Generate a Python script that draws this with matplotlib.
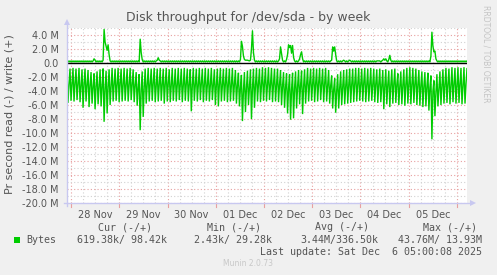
import numpy as np
import matplotlib
matplotlib.use('Agg')
import matplotlib.pyplot as plt
from matplotlib.patches import Rectangle, Polygon
from matplotlib.lines import Line2D

# ---------------- data (values in M bytes/s) ----------------
# read (negative) series: per ~1.5h cycle, the peak (near zero), trough and middle sample
read_peak = [
    -0.9, -0.8, -0.7, -0.8, -0.7, -0.9, -0.8, -1.0, -1.3, -1.5,
    -1.2, -0.9, -0.8, -1.1, -0.9, -0.7, -0.8, -0.7, -0.8, -0.7,
    -0.8, -0.7, -0.9, -1.3, -1.6, -1.2, -0.8, -0.7, -0.8, -0.7,
    -0.8, -0.7, -0.8, -0.7, -0.9, -0.7, -0.8, -0.7, -0.8, -0.7,
    -0.8, -0.9, -0.7, -0.8, -0.7, -0.8, -0.7, -0.8, -0.7, -0.9,
    -0.8, -0.7, -0.8, -0.7, -0.8, -0.7, -1.0, -1.4, -1.7, -1.3,
    -1.1, -0.9, -0.8, -0.7, -0.8, -0.6, -0.7, -0.6, -0.7, -0.8,
    -0.8, -1.0, -1.3, -1.5, -1.6, -1.4, -1.2, -1.0, -1.1, -0.9,
    -0.7, -0.8, -0.7, -0.8, -0.7, -0.8, -0.7, -1.0, -1.8, -2.2,
    -1.6, -1.2, -1.0, -0.9, -0.8, -0.8, -0.7, -0.7, -0.8, -0.7,
    -0.8, -0.7, -0.8, -0.9, -0.8, -1.0, -0.9, -1.1, -0.9, -0.8,
    -1.5, -1.2, -0.9, -0.7, -0.6, -0.7, -0.8, -1.0, -1.2, -1.3,
    -1.4, -1.8, -2.5, -1.6, -1.2, -0.9, -0.7, -0.8, -0.6, -0.7,
    -0.6, -0.7, -0.6, -0.8,
]
read_trough = [
    -5.7, -5.4, -5.5, -5.3, -5.6, -6.4, -5.5, -6.3, -5.8, -6.6,
    -5.9, -6.2, -8.4, -7.2, -6.0, -5.5, -5.4, -5.6, -5.5, -5.4,
    -5.5, -5.3, -5.6, -6.1, -9.6, -7.7, -5.8, -5.5, -5.4, -5.6,
    -5.5, -5.4, -5.8, -5.5, -5.6, -5.4, -5.5, -5.3, -5.6, -5.4,
    -5.5, -6.9, -5.4, -5.5, -5.3, -5.6, -5.4, -5.5, -5.3, -6.0,
    -6.2, -5.5, -5.4, -5.6, -5.5, -5.4, -5.8, -6.2, -8.3, -7.0,
    -6.0, -8.0, -6.4, -5.5, -5.6, -5.4, -5.5, -5.3, -5.6, -5.5,
    -5.6, -6.0, -6.4, -7.2, -8.1, -7.9, -6.5, -5.9, -7.3, -5.8,
    -5.5, -5.4, -5.6, -5.5, -5.3, -5.6, -5.5, -5.8, -6.5, -7.1,
    -6.5, -6.0, -5.9, -5.8, -5.7, -5.6, -5.5, -5.4, -5.5, -5.6,
    -5.5, -5.4, -5.6, -5.7, -5.6, -6.6, -5.9, -6.3, -5.8, -5.7,
    -6.0, -5.9, -6.1, -5.8, -5.9, -5.7, -6.0, -6.1, -6.3, -6.2,
    -6.8, -10.9, -7.6, -6.2, -6.0, -5.8, -5.7, -5.9, -5.6, -5.8,
    -5.7, -5.9, -5.8, -5.7,
]
read_mid = [
    -3.0, -3.1, -2.9, -3.0, -3.2, -3.0, -3.1, -3.2, -3.4, -3.3,
    -3.5, -3.3, -3.6, -3.4, -3.2, -3.0, -3.1, -2.9, -3.0, -3.1,
    -3.0, -3.1, -3.2, -3.5, -3.8, -3.5, -3.1, -3.0, -2.9, -3.1,
    -3.0, -3.1, -3.0, -2.9, -3.1, -3.0, -3.2, -3.0, -3.1, -2.9,
    -3.0, -3.2, -3.0, -3.1, -2.9, -3.0, -3.1, -3.0, -3.2, -3.1,
    -3.0, -3.1, -2.9, -3.0, -3.1, -3.0, -3.2, -3.5, -3.9, -3.6,
    -3.4, -3.6, -3.2, -3.0, -3.1, -2.9, -3.0, -3.1, -3.0, -3.2,
    -3.1, -3.3, -3.5, -3.7, -3.8, -3.6, -3.4, -3.2, -3.4, -3.1,
    -3.0, -3.1, -3.0, -2.9, -3.1, -3.0, -3.2, -3.3, -3.8, -4.0,
    -3.6, -3.4, -3.3, -3.2, -3.1, -3.0, -3.1, -3.0, -2.9, -3.1,
    -3.0, -3.1, -3.0, -3.1, -3.2, -3.3, -3.1, -3.2, -3.0, -3.1,
    -3.3, -3.2, -3.1, -3.0, -3.1, -3.0, -3.1, -3.2, -3.3, -3.4,
    -3.5, -4.0, -4.2, -3.6, -3.3, -3.1, -3.0, -3.1, -3.0, -3.1,
    -3.0, -3.1, -3.0, -3.0,
]
# write (positive) series, one value per 30 min sample
write_vals = [
    0.3, 0.15, 0.3, 0.15, 0.3, 0.15, 0.3, 0.15, 0.3, 0.15, 0.3, 0.15, 0.3, 0.15, 0.3, 0.15, 0.3, 0.15, 0.3, 0.15,
    0.3, 0.15, 0.3, 0.15, 0.3, 0.15, 0.3, 0.6, 0.4, 0.15, 0.3, 0.15, 0.3, 0.15, 0.3, 0.15, 0.4, 4.8, 3.0, 2.4,
    1.8, 2.6, 1.2, 0.3, 0.15, 0.3, 0.15, 0.3, 0.15, 0.3, 0.15, 0.3, 0.15, 0.3, 0.15, 0.3, 0.15, 0.3, 0.15, 0.3,
    0.15, 0.3, 0.15, 0.3, 0.15, 0.3, 0.15, 0.3, 0.15, 0.3, 0.15, 0.3, 0.15, 3.4, 1.5, 0.5, 0.15, 0.3, 0.15, 0.3,
    0.15, 0.3, 0.15, 0.3, 0.15, 0.3, 0.15, 0.3, 0.15, 0.3, 0.4, 0.75, 0.4, 0.3, 0.15, 0.3, 0.15, 0.3, 0.15, 0.3,
    0.15, 0.3, 0.15, 0.3, 0.15, 0.3, 0.15, 0.3, 0.15, 0.3, 0.15, 0.3, 0.15, 0.3, 0.15, 0.3, 0.15, 0.3, 0.15, 0.3,
    0.15, 0.3, 0.15, 0.3, 0.15, 0.3, 0.15, 0.3, 0.15, 0.3, 0.15, 0.3, 0.15, 0.3, 0.15, 0.3, 0.15, 0.3, 0.15, 0.3,
    0.15, 0.3, 0.15, 0.3, 0.15, 0.3, 0.15, 0.3, 0.15, 0.3, 0.15, 0.3, 0.15, 0.3, 0.15, 0.3, 0.15, 0.3, 0.15, 0.3,
    0.15, 0.3, 0.15, 0.3, 0.15, 0.3, 0.15, 0.3, 0.15, 0.3, 0.15, 0.3, 0.15, 0.5, 3.1, 2.4, 1.0, 0.5, 0.4, 0.4,
    0.4, 0.35, 0.3, 0.4, 2.0, 4.6, 1.5, 0.4, 0.15, 0.3, 0.15, 0.3, 0.15, 0.3, 0.15, 0.3, 0.15, 0.3, 0.15, 0.3,
    0.15, 0.3, 0.15, 0.3, 0.15, 0.3, 0.15, 0.3, 0.15, 0.3, 0.15, 0.3, 0.6, 2.3, 1.4, 0.4, 0.15, 0.3, 0.15, 0.5,
    1.2, 2.6, 2.2, 2.5, 1.4, 2.5, 0.8, 0.3, 0.15, 0.3, 0.15, 0.3, 0.6, 1.2, 1.6, 0.6, 0.15, 0.3, 0.15, 0.3,
    0.15, 0.3, 0.15, 0.3, 0.15, 0.3, 0.15, 0.3, 0.15, 0.3, 0.15, 0.3, 0.15, 0.3, 0.15, 0.3, 0.15, 0.3, 0.15, 0.3,
    0.15, 0.3, 0.15, 0.3, 0.4, 2.3, 1.7, 2.3, 1.2, 0.3, 0.15, 0.3, 0.15, 0.3, 0.15, 0.3, 0.4, 0.3, 0.15, 0.3,
    0.15, 0.3, 0.4, 0.3, 0.15, 0.3, 0.15, 0.3, 0.15, 0.3, 0.15, 0.3, 0.15, 0.3, 0.15, 0.3, 0.15, 0.3, 0.15, 0.3,
    0.15, 0.3, 0.15, 0.3, 0.15, 0.3, 0.15, 0.3, 0.15, 0.3, 0.3, 0.3, 0.3, 0.15, 0.3, 0.4, 0.6, 0.4, 0.6, 0.3,
    0.15, 0.5, 1.1, 0.4, 0.15, 0.3, 0.15, 0.3, 0.15, 0.3, 0.15, 0.3, 0.15, 0.3, 0.15, 0.3, 0.15, 0.3, 0.15, 0.3,
    0.15, 0.3, 0.15, 0.3, 0.15, 0.3, 0.15, 0.3, 0.15, 0.3, 0.15, 0.3, 0.15, 0.3, 0.15, 0.3, 0.15, 0.3, 0.15, 0.3,
    0.15, 0.3, 0.15, 1.0, 4.4, 2.4, 1.6, 1.7, 0.6, 0.3, 0.15, 0.3, 0.15, 0.3, 0.15, 0.3, 0.15, 0.3, 0.15, 0.3,
    0.15, 0.3, 0.15, 0.3, 0.15, 0.3, 0.15, 0.3, 0.15, 0.3, 0.15, 0.3, 0.15, 0.3, 0.15, 0.3, 0.15, 0.3, 0.15, 0.3,
]
day_labels = ['28 Nov', '29 Nov', '30 Nov', '01 Dec', '02 Dec', '03 Dec', '04 Dec', '05 Dec']
ytick_vals = [4, 2, 0, -2, -4, -6, -8, -10, -12, -14, -16, -18, -20]
ytick_labels = ['4.0 M', '2.0 M', '0.0', '-2.0 M', '-4.0 M', '-6.0 M', '-8.0 M', '-10.0 M',
                '-12.0 M', '-14.0 M', '-16.0 M', '-18.0 M', '-20.0 M']
legend_name = 'Bytes'
stat_headers = ['Cur (-/+)', 'Min (-/+)', 'Avg (-/+)', 'Max (-/+)']
stat_values = ['619.38k/ 98.42k', '2.43k/ 29.28k', '3.44M/336.50k', '43.76M/ 13.93M']
last_update = 'Last update: Sat Dec  6 05:00:08 2025'

# ---------------- figure ----------------
W, H = 497, 275
fig = plt.figure(figsize=(W / 100, H / 100), dpi=100, facecolor='#F0F0F0')
def fx(x): return x / W
def fy(y): return 1 - y / H

L, R, T, B = 67, 467, 28, 203
ax = fig.add_axes([fx(L), fy(B), (R - L) / W, (B - T) / H])
ax.set_facecolor('white')
XMIN, XMAX = -2.0, 197.0
YMIN, YMAX = -20.0, 5.0
ax.set_xlim(XMIN, XMAX)
ax.set_ylim(YMIN, YMAX)

n = len(write_vals)
t = np.linspace(XMIN, XMAX, n)
read_series = np.column_stack([read_peak, read_trough, read_mid]).ravel()[:n]

GREEN = '#00CC00'
red_grid = '#E8A0A0'
gray_grid = '#D2D2D2'
dots = (0, (1, 2))
# grid
for h in np.arange(0, XMAX, 6):
    major = (h % 24 == 0)
    ax.axvline(h, color=red_grid if major else gray_grid, lw=0.8, ls=dots, zorder=1)
for v in np.arange(YMIN, YMAX + 0.5, 1):
    major = (v % 2 == 0)
    ax.axhline(v, color=red_grid if major else gray_grid, lw=0.8, ls=dots, zorder=1)

ax.plot(t, read_series, color=GREEN, lw=1.0, zorder=3, solid_joinstyle='miter')
ax.plot(t, write_vals, color=GREEN, lw=1.0, zorder=3)
ax.axhline(0, color='black', lw=1.0, zorder=4)

for s in ax.spines.values():
    s.set_visible(False)
ax.set_yticks(ytick_vals)
ax.set_yticklabels(ytick_labels, fontsize=7, color='#555555')
ax.set_xticks([12 + 24 * i for i in range(len(day_labels))])
ax.set_xticklabels(day_labels, fontsize=7, color='#555555')
ax.tick_params(axis='both', length=0, pad=6)
ax.tick_params(axis='x', pad=5)

# axis lines with arrows (munin style)
axis_col = '#C8C8F0'
fig.add_artist(Line2D([fx(L), fx(L)], [fy(B + 3), fy(T - 4)], color=axis_col, lw=1.0))
fig.add_artist(Line2D([fx(L - 3), fx(R + 4)], [fy(B), fy(B)], color=axis_col, lw=1.0))
fig.add_artist(Polygon([[fx(L - 3), fy(T - 3)], [fx(L + 3), fy(T - 3)], [fx(L), fy(T - 9)]],
                       closed=True, color=axis_col, lw=0))
fig.add_artist(Polygon([[fx(R + 3), fy(B - 3)], [fx(R + 3), fy(B + 3)], [fx(R + 9), fy(B)]],
                       closed=True, color=axis_col, lw=0))
# small red ticks below axis at midnights
for h in np.arange(0, XMAX, 24):
    ax.plot([h, h], [0, -0.02], transform=ax.get_xaxis_transform(), color=red_grid,
            lw=0.8, clip_on=False)

# texts
fig.text(fx(248), fy(18), 'Disk throughput for /dev/sda - by week', ha='center', va='center',
         fontsize=9, color='#555555')
fig.text(fx(10), fy(114), 'Pr second read (-) / write (+)', rotation=90, ha='center',
         va='center', fontsize=8, color='#555555')
fig.text(fx(486), fy(54), 'RRDTOOL / TOBI OETIKER', rotation=270, ha='center', va='center',
         fontsize=5.5, color='#C4C4C4')

mono = 'DejaVu Sans Mono'
tc = '#555555'
header_x = [125, 234, 342, 450]
for hx, txt in zip(header_x, stat_headers):
    fig.text(fx(hx), fy(227), txt, ha='center', va='center', fontsize=7.2, family=mono, color=tc)
value_right = [167, 272, 378, 482]
for vx, txt in zip(value_right, stat_values):
    fig.text(fx(vx), fy(240), txt, ha='right', va='center', fontsize=7.2, family=mono, color=tc)
fig.add_artist(Rectangle((fx(14), fy(243)), 6 / W, 6 / H, color=GREEN, lw=0))
fig.text(fx(26), fy(240), legend_name, ha='left', va='center', fontsize=7.2, family=mono, color=tc)
fig.text(fx(482), fy(252), last_update, ha='right', va='center', fontsize=7.2, family=mono, color=tc)
fig.text(fx(248), fy(263), 'Munin 2.0.73', ha='center', va='center', fontsize=5.5, color='#C8C8C8')

fig.savefig('out.png', dpi=100, facecolor=fig.get_facecolor())
